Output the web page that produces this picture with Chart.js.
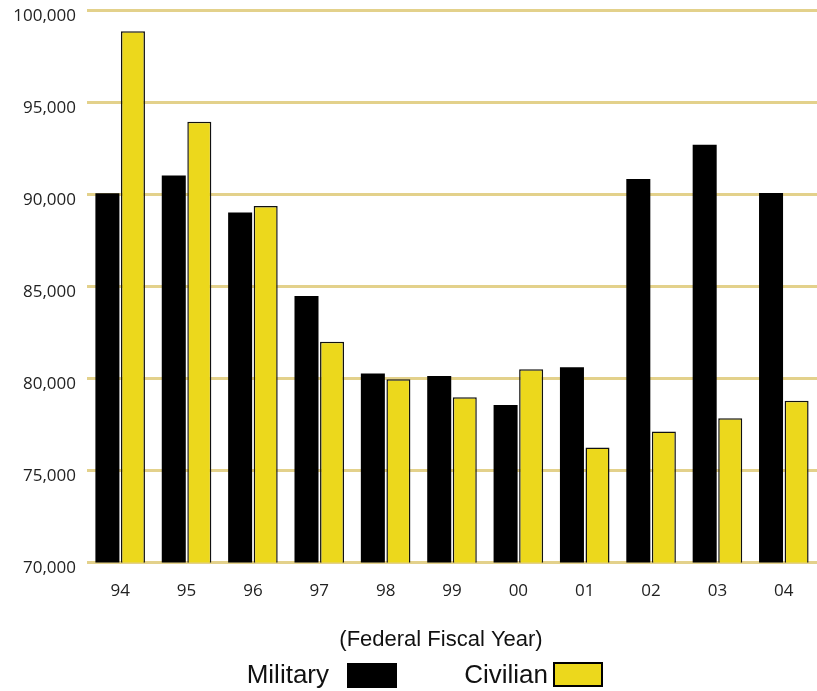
<!DOCTYPE html>
<html lang="en">
<head>
  <meta charset="UTF-8">
  <title>Military vs Civilian</title>
  <script src="https://cdn.jsdelivr.net/npm/chart.js"></script>
  <style>
    html, body { margin: 0; padding: 0; background: #fff; }
    #wrap { width: 817px; height: 691px; }
  </style>
</head>
<body>
  <div id="wrap"><canvas id="fyChart" width="817" height="691"></canvas></div>
  <script>
    // Federal fiscal years
    const years = ['94', '95', '96', '97', '98', '99', '00', '01', '02', '03', '04'];
    const military = [90050, 91010, 89000, 84470, 80270, 80130, 78550, 80610, 90830, 92680, 90070];
    const civilian = [98840, 93930, 89360, 81990, 79960, 78980, 80490, 76250, 77120, 77840, 78780];
    const yTicks = [70000, 75000, 80000, 85000, 90000, 95000, 100000];

    const gridColor = '#e3d18b';
    const civColor = '#ecd81c';

    // bottom caption + legend (text first, then swatch)
    const bottomLegend = {
      id: 'bottomLegend',
      afterDraw(chart) {
        const ctx = chart.ctx;
        ctx.save();
        ctx.fillStyle = '#111';
        ctx.textBaseline = 'middle';
        ctx.font = '22px "Liberation Sans", Arial, sans-serif';
        ctx.textAlign = 'center';
        ctx.fillText('(Federal Fiscal Year)', 441, 640);

        ctx.font = '26px "Liberation Sans", Arial, sans-serif';
        ctx.textAlign = 'right';
        const ds = chart.data.datasets;
        // Military
        ctx.fillStyle = '#111';
        ctx.fillText(ds[0].label, 329, 676);
        ctx.fillStyle = ds[0].backgroundColor;
        ctx.fillRect(347, 663, 50, 25);
        // Civilian
        ctx.fillStyle = '#111';
        ctx.fillText(ds[1].label, 548, 676);
        ctx.fillStyle = ds[1].backgroundColor;
        ctx.fillRect(553, 662, 50, 25);
        ctx.strokeStyle = '#000';
        ctx.lineWidth = 2;
        ctx.strokeRect(554, 663, 48, 23);
        ctx.restore();
      }
    };

    const ctx = document.getElementById('fyChart').getContext('2d');
    new Chart(ctx, {
      type: 'bar',
      data: {
        labels: years,
        datasets: [
          {
            label: 'Military',
            data: military,
            backgroundColor: '#000',
            borderWidth: 0,
            categoryPercentage: 0.77,
            barPercentage: 0.94
          },
          {
            label: 'Civilian',
            data: civilian,
            backgroundColor: civColor,
            borderColor: '#111',
            borderWidth: 1.5,
            categoryPercentage: 0.77,
            barPercentage: 0.94
          }
        ]
      },
      options: {
        responsive: false,
        animation: false,
        layout: { padding: { left: 0, right: 0, top: 0, bottom: 72 } },
        plugins: {
          legend: { display: false },
          tooltip: { enabled: false }
        },
        scales: {
          x: {
            grid: { display: false, drawTicks: false },
            border: { display: false },
            ticks: {
              padding: 18,
              color: '#222',
              font: { family: '"Open Sans", sans-serif', size: 17 }
            }
          },
          y: {
            min: 70000,
            max: 100000,
            afterFit(scale) {
              scale.width = 87;
              scale.paddingTop = 10;
            },
            afterBuildTicks(scale) { scale.ticks = yTicks.map(v => ({ value: v })); },
            grid: { color: gridColor, lineWidth: 3, drawTicks: false },
            border: { display: false },
            ticks: {
              padding: 11,
              labelOffset: 6,
              color: '#222',
              font: { family: '"Open Sans", sans-serif', size: 17 },
              callback: v => v.toLocaleString('en-US')
            }
          }
        }
      },
      plugins: [bottomLegend]
    });
  </script>
</body>
</html>
